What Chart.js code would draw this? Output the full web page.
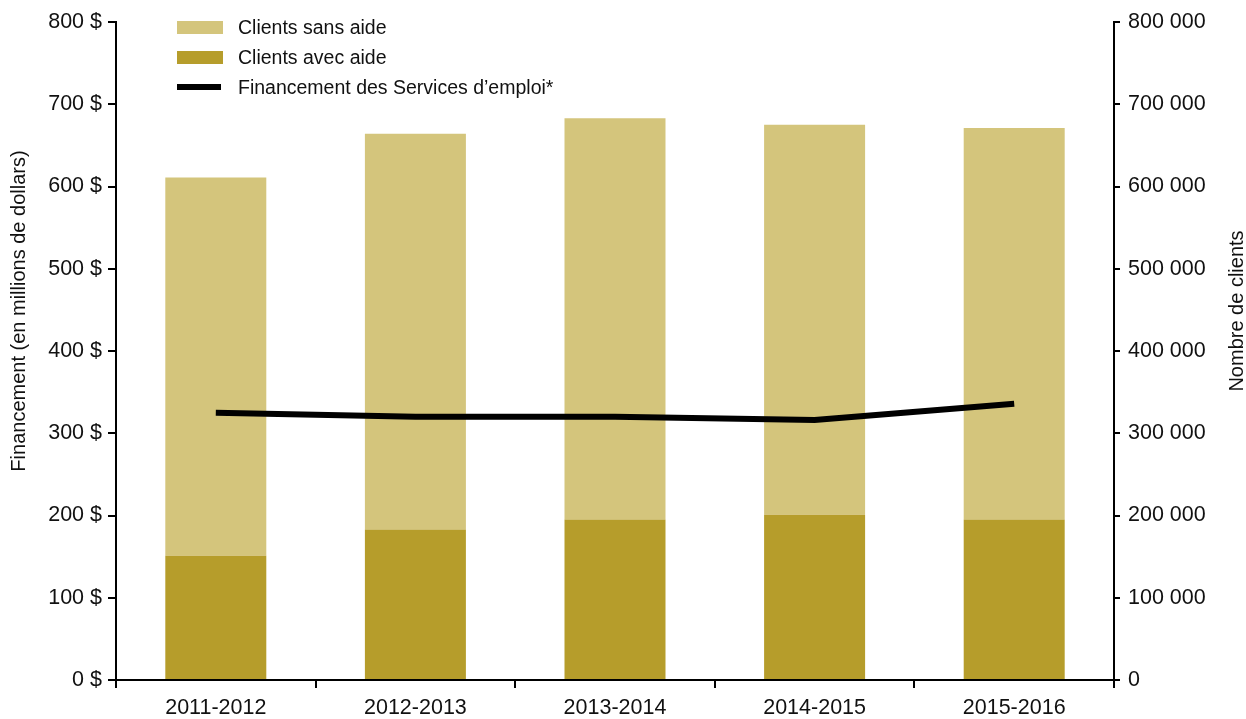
<!DOCTYPE html>
<html>
<head>
<meta charset="utf-8">
<script src="https://cdn.jsdelivr.net/npm/chart.js@4"></script>
<style>
  body { margin: 0; background: #fff; }
  #wrap { position: relative; width: 1246px; height: 719px; }
  #legend { position: absolute; left: 177px; top: 12px; font-family: 'Liberation Sans', Arial, sans-serif; font-size: 19.5px; color: #111; }
  .row { display: flex; align-items: center; height: 30px; }
  .swatch { width: 46px; height: 13px; margin-right: 15px; }
  .lineSwatch { width: 44px; height: 6px; margin-right: 17px; background: #000; }
</style>
</head>
<body>
<div id="wrap">
  <canvas id="chart" width="1246" height="719"></canvas>
  <div id="legend"></div>
</div>
<script>
// years on the x axis
const years = ["2011-2012", "2012-2013", "2013-2014", "2014-2015", "2015-2016"];
// clients (right axis)
const clientsAvecAide = [151000, 183000, 195000, 201000, 195000];
const clientsSansAide = [460000, 481000, 488000, 474000, 476000];
// funding in millions (left axis)
const financement = [325, 320, 320, 316, 336];

const LIGHT = "#D4C57C";
const DARK = "#B69D2B";
const FONT = "'Liberation Sans', Arial, sans-serif";

const legendItems = [
  { label: "Clients sans aide", color: LIGHT, type: "box" },
  { label: "Clients avec aide", color: DARK, type: "box" },
  { label: "Financement des Services d\u2019emploi*", color: "#000", type: "line" }
];
const legendDiv = document.getElementById("legend");
legendItems.forEach(item => {
  const row = document.createElement("div");
  row.className = "row";
  const sw = document.createElement("div");
  sw.className = item.type == "box" ? "swatch" : "lineSwatch";
  sw.style.background = item.color;
  const txt = document.createElement("span");
  txt.textContent = item.label;
  row.appendChild(sw);
  row.appendChild(txt);
  legendDiv.appendChild(row);
});

function spaced(n){
  return String(n).replace(/\B(?=(\d{3})+(?!\d))/g, " ");
}

// axis titles sit a bit above the middle of the plot, so draw them by hand
function drawRotated(ctx, text, x, y){
  ctx.save();
  ctx.fillStyle = "#111";
  ctx.font = "20px " + FONT;
  ctx.textAlign = "center";
  ctx.textBaseline = "middle";
  ctx.translate(x, y);
  ctx.rotate(-Math.PI / 2);
  ctx.fillText(text, 0, 0);
  ctx.restore();
}
const axisTitles = {
  id: "axisTitles",
  afterDraw(chart){
    drawRotated(chart.ctx, "Financement (en millions de dollars)", 19, 311);
    drawRotated(chart.ctx, "Nombre de clients", 1237, 311);
  }
};

const tickFont = { family: FONT, size: 21.5 };
const axisLine = { display: true, color: "#000", width: 2 };

new Chart(document.getElementById("chart"), {
  type: "bar",
  data: {
    labels: years,
    datasets: [
      {
        type: "line",
        label: "Financement des Services d\u2019emploi*",
        data: financement,
        yAxisID: "y",
        borderColor: "#000",
        borderWidth: 6,
        pointRadius: 0,
        tension: 0,
        order: 0
      },
      {
        label: "Clients avec aide",
        data: clientsAvecAide,
        yAxisID: "y1",
        backgroundColor: DARK,
        barPercentage: 0.506,
        categoryPercentage: 1,
        order: 1
      },
      {
        label: "Clients sans aide",
        data: clientsSansAide,
        yAxisID: "y1",
        backgroundColor: LIGHT,
        barPercentage: 0.506,
        categoryPercentage: 1,
        order: 1
      }
    ]
  },
  options: {
    responsive: false,
    animation: false,
    layout: { padding: { top: 22, left: 0, right: 0, bottom: 0 } },
    plugins: { legend: { display: false }, tooltip: { enabled: false } },
    scales: {
      x: {
        stacked: true,
        border: axisLine,
        grid: { offset: true, drawOnChartArea: false, drawTicks: true, tickLength: 8, color: "#000", lineWidth: 2 },
        ticks: { color: "#111", font: tickFont, padding: 7, maxRotation: 0 },
        afterFit: s => { s.height = 39; }
      },
      y: {
        position: "left",
        min: 0, max: 800,
        border: axisLine,
        grid: { drawOnChartArea: false, drawTicks: true, tickLength: 8, color: "#000", lineWidth: 2 },
        ticks: { stepSize: 100, color: "#111", font: tickFont, padding: 6, callback: v => v + " $" },
        afterFit: s => { s.width = 116; }
      },
      y1: {
        position: "right",
        stacked: true,
        min: 0, max: 800000,
        border: axisLine,
        grid: { drawOnChartArea: false, drawTicks: true, tickLength: 6, color: "#000", lineWidth: 2 },
        ticks: { stepSize: 100000, color: "#111", font: tickFont, padding: 8, callback: v => spaced(v) },
        afterFit: s => { s.width = 132; }
      }
    }
  },
  plugins: [axisTitles]
});
</script>
</body>
</html>
